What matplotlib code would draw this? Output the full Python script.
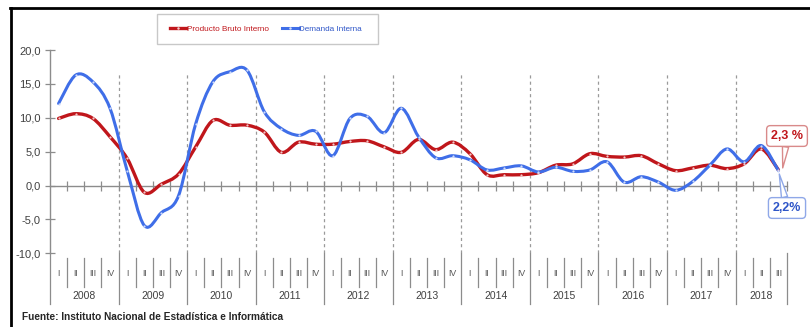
import matplotlib
matplotlib.use("Agg")
import matplotlib.pyplot as plt
from matplotlib.path import Path
from matplotlib.patches import PathPatch, Rectangle
from matplotlib.lines import Line2D
import matplotlib.transforms as mtransforms

plt.rcParams['font.family'] = ['Liberation Sans Narrow', 'Liberation Sans', 'DejaVu Sans']

years = ['2008', '2009', '2010', '2011', '2012', '2013', '2014', '2015', '2016', '2017', '2018']
quarters = ['I', 'II', 'III', 'IV']
n_quarters_last = 3

pbi = [9.9, 10.6, 9.9, 7.2, 4.0, -1.0, 0.2, 1.7, 5.7, 9.6, 8.9, 8.9, 7.9, 4.9, 6.4,
       6.1, 6.1, 6.5, 6.6, 5.7, 4.9, 6.8, 5.3, 6.4, 4.7, 1.6, 1.6, 1.6, 1.9, 3.0,
       3.2, 4.7, 4.3, 4.2, 4.4, 3.2, 2.2, 2.6, 3.0, 2.5, 3.2, 5.4, 2.3]
demanda = [12.1, 16.3, 15.3, 11.4, 2.2, -5.9, -4.0, -1.5, 9.1, 15.3, 16.8, 17.0, 10.9, 8.4, 7.4,
           8.0, 4.4, 9.9, 10.2, 7.8, 11.4, 7.2, 4.1, 4.4, 3.8, 2.3, 2.6, 2.9, 2.0, 2.7,
           2.1, 2.3, 3.5, 0.5, 1.3, 0.5, -0.7, 0.6, 3.0, 5.4, 3.5, 5.9, 2.2]
yticks = [-10, -5, 0, 5, 10, 15, 20]
label_pbi = 'Producto Bruto Interno'
label_di = 'Demanda Interna'
source = 'Fuente: Instituto Nacional de Estadística e Informática'

RED = '#C0161B'
BLUE = '#3F6EE8'
GREY = '#8C8C8C'

qlabels = []
for yi, y in enumerate(years):
    nq = 4 if yi < len(years) - 1 else n_quarters_last
    qlabels += quarters[:nq]
x = list(range(len(qlabels)))


def smooth_path(xs, ys):
    verts = [(xs[0], ys[0])]
    codes = [Path.MOVETO]
    n = len(xs)
    for i in range(n - 1):
        a = i - 1 if i > 0 else i
        d = i + 2 if i + 2 < n else i + 1
        c1 = (xs[i] + (xs[i + 1] - xs[a]) / 6.0, ys[i] + (ys[i + 1] - ys[a]) / 6.0)
        c2 = (xs[i + 1] - (xs[d] - xs[i]) / 6.0, ys[i + 1] - (ys[d] - ys[i]) / 6.0)
        verts += [c1, c2, (xs[i + 1], ys[i + 1])]
        codes += [Path.CURVE4] * 3
    return Path(verts, codes)


fig = plt.figure(figsize=(8.1, 3.27), dpi=100)
fig.patch.set_facecolor('white')
ax = fig.add_axes([50 / 810, (327 - 253.3) / 327, 737 / 810, 203.3 / 327])

ax.set_xlim(-0.5, len(x) - 0.5)
ax.set_ylim(-10, 20)

nb = 0
bounds = []
for yi, y in enumerate(years):
    nq = 4 if yi < len(years) - 1 else n_quarters_last
    nb += nq
    bounds.append(nb - 0.5)
for b in bounds[:-1]:
    ax.axvline(b, ymin=0, ymax=(16.8 + 10) / 30, color='#9A9A9A', lw=0.9,
               ls=(0, (2.5, 2.5)), zorder=1)

ax.add_patch(PathPatch(smooth_path(x, pbi), fill=False, edgecolor=RED, lw=2.4,
                       zorder=3, capstyle='round', joinstyle='round'))
ax.add_patch(PathPatch(smooth_path(x, demanda), fill=False, edgecolor=BLUE, lw=2.2,
                       zorder=4, capstyle='round', joinstyle='round'))
ax.plot(x, pbi, ls='none', marker='o', ms=1.6, mfc='#F2C8C8', mec='none', zorder=5)
ax.plot(x, demanda, ls='none', marker='o', ms=1.6, mfc='#CFDBFA', mec='none', zorder=5)

for s in ['top', 'right']:
    ax.spines[s].set_visible(False)
ax.spines['bottom'].set_position(('data', 0))
ax.spines['bottom'].set_color(GREY)
ax.spines['bottom'].set_linewidth(1.0)
ax.spines['left'].set_color(GREY)
ax.spines['left'].set_linewidth(1.0)
ax.spines['left'].set_bounds(-10, 20)

ax.set_yticks(yticks)
ax.set_yticklabels([f'{v:.1f}'.replace('.', ',') for v in yticks])
ax.tick_params(axis='y', direction='inout', length=7, width=0.9, color=GREY,
               labelsize=8, labelcolor='#404040', pad=3)
ax.set_xticks([i + 0.5 for i in x])
ax.set_xticklabels([])
ax.tick_params(axis='x', direction='inout', length=7, width=0.9, color=GREY)

trans = mtransforms.blended_transform_factory(ax.transData, ax.transAxes)
ax.plot([-0.5, -0.5], [0, -0.249], transform=trans, color=GREY, lw=0.9, clip_on=False)
for i, q in enumerate(qlabels):
    ax.text(i, -0.097, q, transform=trans, ha='center', va='center', fontsize=6.3,
            color='#555555', clip_on=False)
for i in x:
    b = i + 0.5
    if b in bounds:
        ax.plot([b, b], [0, -0.249], transform=trans, color=GREY, lw=0.9, clip_on=False)
    else:
        ax.plot([b, b], [-0.023, -0.166], transform=trans, color=GREY, lw=0.9, clip_on=False)
start = -0.5
for y, b in zip(years, bounds):
    ax.text((start + b) / 2, -0.21, y, transform=trans, ha='center', va='center',
            fontsize=7.5, color='#404040', clip_on=False)
    start = b

ax.annotate('2,3 %', xy=(x[-1] + 0.25, pbi[-1] + 0.3), xytext=(787, 191), textcoords='figure pixels',
            ha='center', va='center', fontsize=9, fontweight='bold', color=RED,
            bbox=dict(boxstyle='round,pad=0.35,rounding_size=0.3', fc='white', ec='#D98A8A', lw=1.0),
            arrowprops=dict(arrowstyle='wedge,tail_width=0.5', fc='white', ec='#D98A8A', lw=1.0,
                            shrinkA=0, shrinkB=0), zorder=6)
ax.annotate('2,2%', xy=(x[-1] + 0.05, demanda[-1] - 0.5), xytext=(787, 119), textcoords='figure pixels',
            ha='center', va='center', fontsize=9, fontweight='bold', color='#2F56C8',
            bbox=dict(boxstyle='round,pad=0.35,rounding_size=0.3', fc='white', ec='#8FA8E8', lw=1.0),
            arrowprops=dict(arrowstyle='wedge,tail_width=0.5', fc='white', ec='#8FA8E8', lw=1.0,
                            shrinkA=0, shrinkB=0), zorder=6)

fig.add_artist(Rectangle((157 / 810, 1 - 44 / 327), 221 / 810, 30 / 327, transform=fig.transFigure,
                         fill=True, fc='white', ec='#C8C8C8', lw=1.0))
handles = [Line2D([], [], color=RED, lw=2.4, marker='o', ms=1.8, mfc='#F2C8C8', mec='none'),
           Line2D([], [], color=BLUE, lw=2.2, marker='o', ms=1.8, mfc='#CFDBFA', mec='none')]
leg = fig.legend(handles, [label_pbi, label_di], loc='center', ncol=2,
                 bbox_to_anchor=(266 / 810, 1 - 29 / 327), fontsize=5.9, frameon=False,
                 handlelength=2.0, handletextpad=0.1, columnspacing=1.6, borderpad=0.2)
leg.get_texts()[0].set_color(RED)
leg.get_texts()[1].set_color('#2F56C8')

fig.text(22 / 810, 1 - 317 / 327, source, ha='left', va='center', fontsize=7.3,
         fontweight='bold', color='#262626')

fig.add_artist(Line2D([10 / 810, 1], [1 - 8 / 327, 1 - 8 / 327], transform=fig.transFigure,
                      color='black', lw=2))
fig.add_artist(Line2D([11 / 810, 11 / 810], [0, 1 - 8 / 327], transform=fig.transFigure,
                      color='black', lw=2))

fig.savefig('out.png', dpi=100, facecolor='white')
